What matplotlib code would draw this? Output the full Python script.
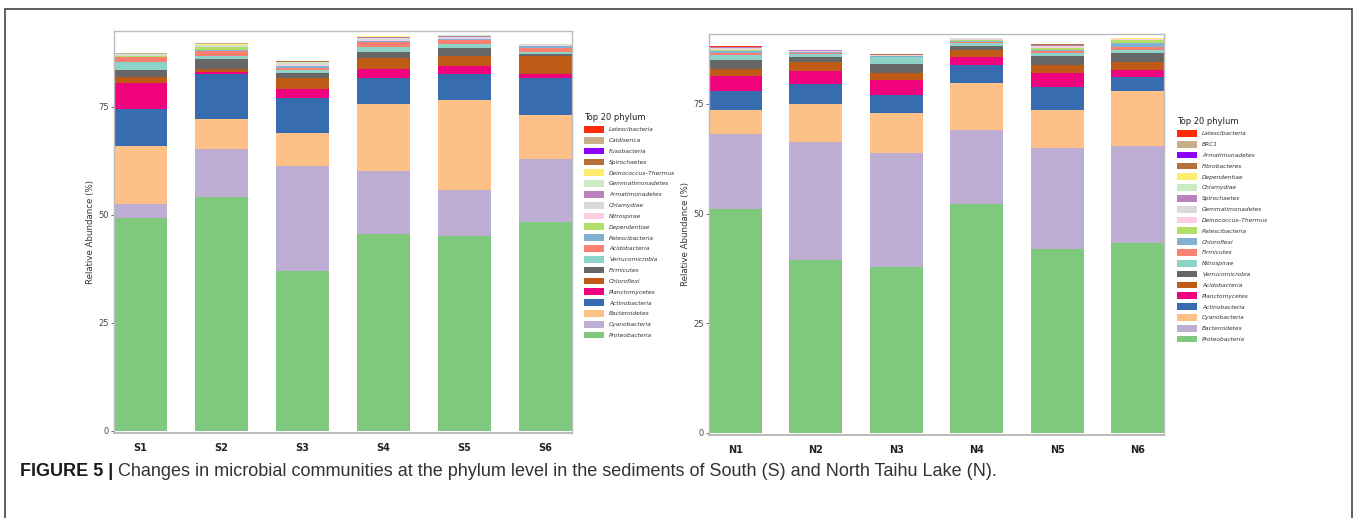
import numpy as np
import matplotlib
matplotlib.use("Agg")
import matplotlib.pyplot as plt
from matplotlib.patches import Patch, Rectangle

# ---- data (relative abundance %, stacked bottom -> top) ----
south_samples = ["S1", "S2", "S3", "S4", "S5", "S6"]
south_phyla = ["Proteobacteria", "Cyanobacteria", "Bacteroidetes", "Actinobacteria",
               "Planctomycetes", "Chloroflexi", "Firmicutes", "Verrucomicrobia",
               "Acidobacteria", "Patescibacteria", "Dependentiae", "Nitrospirae",
               "Chlamydiae", "Armatimonadetes", "Gemmatimonadetes", "Deinococcus\u2013Thermus",
               "Spirochaetes", "Fusobacteria", "Caldiserica", "Latescibacteria"]
south_values = [
    [49.3, 54.0, 37.0, 45.5, 45.1, 48.3],
    [3.2, 11.2, 24.3, 14.5, 10.5, 14.6],
    [13.3, 6.9, 7.5, 15.5, 20.9, 10.2],
    [8.6, 10.4, 8.1, 6.2, 6.0, 8.6],
    [6.0, 0.6, 2.1, 2.0, 1.9, 0.8],
    [1.5, 0.6, 2.7, 2.6, 2.2, 4.1],
    [1.5, 2.3, 1.0, 1.4, 1.9, 0.5],
    [2.0, 0.8, 0.7, 1.2, 1.0, 0.6],
    [1.0, 1.1, 0.6, 1.0, 0.9, 0.8],
    [0.1, 0.3, 0.3, 0.2, 0.2, 0.5],
    [0.1, 0.5, 0.1, 0.1, 0.1, 0.1],
    [0.1, 0.1, 0.2, 0.3, 0.2, 0.1],
    [0.3, 0.2, 0.4, 0.4, 0.2, 0.1],
    [0.05, 0.05, 0.1, 0.1, 0.3, 0.05],
    [0.1, 0.2, 0.2, 0.2, 0.1, 0.05],
    [0.05, 0.2, 0.05, 0.05, 0.03, 0.03],
    [0.05, 0.05, 0.1, 0.05, 0.03, 0.03],
    [0.02, 0.02, 0.02, 0.02, 0.02, 0.02],
    [0.2, 0.2, 0.1, 0.1, 0.03, 0.03],
    [0.03, 0.03, 0.03, 0.03, 0.02, 0.02],
]

north_samples = ["N1", "N2", "N3", "N4", "N5", "N6"]
north_phyla = ["Proteobacteria", "Bacteroidetes", "Cyanobacteria", "Actinobacteria",
               "Planctomycetes", "Acidobacteria", "Verrucomicrobia", "Nitrospirae",
               "Firmicutes", "Chloroflexi", "Patescibacteria", "Deinococcus\u2013Thermus",
               "Gemmatimonadetes", "Spirochaetes", "Chlamydiae", "Dependentiae",
               "Fibrobacteres", "Armatimonadetes", "BRC1", "Latescibacteria"]
north_values = [
    [51.1, 39.4, 37.8, 52.3, 41.9, 43.2],
    [17.0, 26.9, 26.0, 16.8, 23.0, 22.2],
    [5.6, 8.7, 9.1, 10.7, 8.7, 12.6],
    [4.3, 4.6, 4.1, 4.0, 5.3, 3.1],
    [3.4, 2.9, 3.5, 1.9, 3.2, 1.6],
    [1.6, 2.1, 1.6, 1.6, 1.8, 1.9],
    [2.1, 1.1, 2.0, 0.9, 2.0, 2.1],
    [1.1, 0.6, 1.5, 0.6, 0.7, 0.6],
    [0.4, 0.3, 0.2, 0.3, 0.4, 0.8],
    [0.5, 0.2, 0.1, 0.3, 0.3, 0.7],
    [0.2, 0.1, 0.1, 0.2, 0.4, 0.8],
    [0.3, 0.1, 0.1, 0.1, 0.4, 0.1],
    [0.2, 0.1, 0.05, 0.1, 0.2, 0.1],
    [0.1, 0.1, 0.05, 0.1, 0.1, 0.05],
    [0.1, 0.05, 0.05, 0.1, 0.1, 0.05],
    [0.05, 0.02, 0.02, 0.05, 0.05, 0.05],
    [0.02, 0.01, 0.01, 0.02, 0.02, 0.02],
    [0.02, 0.01, 0.01, 0.01, 0.01, 0.01],
    [0.01, 0.01, 0.01, 0.01, 0.01, 0.01],
    [0.01, 0.01, 0.01, 0.01, 0.01, 0.01],
]

# one colour per stack position (bottom -> top), same in both panels
palette = ["#7FC97F", "#BEAED4", "#FDC086", "#386CB0", "#F0027F", "#BF5B17",
           "#666666", "#8DD3C7", "#FB8072", "#80B1D3", "#B3DE69", "#FCCDE5",
           "#D9D9D9", "#BC80BD", "#CCEBC5", "#FFED6F", "#B5703A", "#8B00FF",
           "#C9AE8C", "#FF2A0A"]

W, H = 1359, 518
fig = plt.figure(figsize=(W / 100, H / 100), dpi=100)

def px_box(x0, y0, x1, y1):
    return [x0 / W, 1 - y1 / H, (x1 - x0) / W, (y1 - y0) / H]

def stacked_panel(ax, samples, phyla, values, ylim):
    x = np.arange(1, len(samples) + 1)
    bw = 0.655
    bottom = np.zeros(len(samples))
    for i, row in enumerate(values):
        row = np.array(row)
        ax.bar(x, row, bottom=bottom, width=bw, color=palette[i], linewidth=0)
        bottom += row
    ax.set_xlim(1 - bw / 2, len(samples) + bw / 2)
    ax.set_ylim(*ylim)
    ax.set_yticks([0, 25, 50, 75])
    ax.set_xticks(x)
    ax.set_xticklabels(samples, fontsize=7, fontweight="bold",
                       family=["Liberation Sans Narrow", "DejaVu Sans"])
    ax.tick_params(axis="x", length=0, pad=7, colors="#222222")
    ax.tick_params(axis="y", length=2.5, width=0.6, color="#555555",
                   labelsize=6, labelcolor="#444444", pad=1.5)
    for sp in ax.spines.values():
        sp.set_color("#BBBBBB")
        sp.set_linewidth(1.0)
    ax.spines["bottom"].set_linewidth(1.4)
    ax.set_ylabel("Relative Abundance (%)", fontsize=6.2, color="#333333", labelpad=2)

def legend_for(phyla, anchor):
    handles = [Patch(facecolor=palette[i], edgecolor="none", label=phyla[i])
               for i in range(len(phyla) - 1, -1, -1)]
    leg = fig.legend(handles=handles, loc="upper left", bbox_to_anchor=anchor,
                     frameon=False, fontsize=4.2, title="Top 20 phylum",
                     title_fontsize=6, handlelength=3.4, handleheight=1.4,
                     labelspacing=0.7, handletextpad=0.9, borderpad=0,
                     borderaxespad=0, alignment="left")
    for t in leg.get_texts():
        t.set_fontstyle("italic")
        t.set_color("#333333")
    leg.get_title().set_color("#222222")

ax1 = fig.add_axes(px_box(114, 31, 572, 433))
stacked_panel(ax1, south_samples, south_phyla, south_values, (-0.53, 92.5))
legend_for(south_phyla, (584 / W, 1 - 113 / H))

ax2 = fig.add_axes(px_box(709, 34, 1164, 435))
stacked_panel(ax2, north_samples, north_phyla, north_values, (-0.46, 90.95))
legend_for(north_phyla, (1177 / W, 1 - 117 / H))

# outer frame of the figure panel (open at the bottom)
fig.patches.append(Rectangle((5 / W, -0.1), 1347 / W, 1.1 - 9 / H, transform=fig.transFigure,
                             fill=False, edgecolor="#444444", linewidth=1.2, clip_on=False))

# caption
t1 = fig.text(20 / W, 1 - 472 / H, "FIGURE 5 |", fontsize=13, fontweight="bold",
              color="#1A1A1A", va="center", family="Liberation Sans")
fig.canvas.draw()
bb = t1.get_window_extent()
fig.text((bb.x1 + 5) / W, 1 - 472 / H,
         "Changes in microbial communities at the phylum level in the sediments of South (S) and North Taihu Lake (N).",
         fontsize=13, color="#333333", va="center", family="Liberation Sans")

fig.savefig("out.png", dpi=100)
